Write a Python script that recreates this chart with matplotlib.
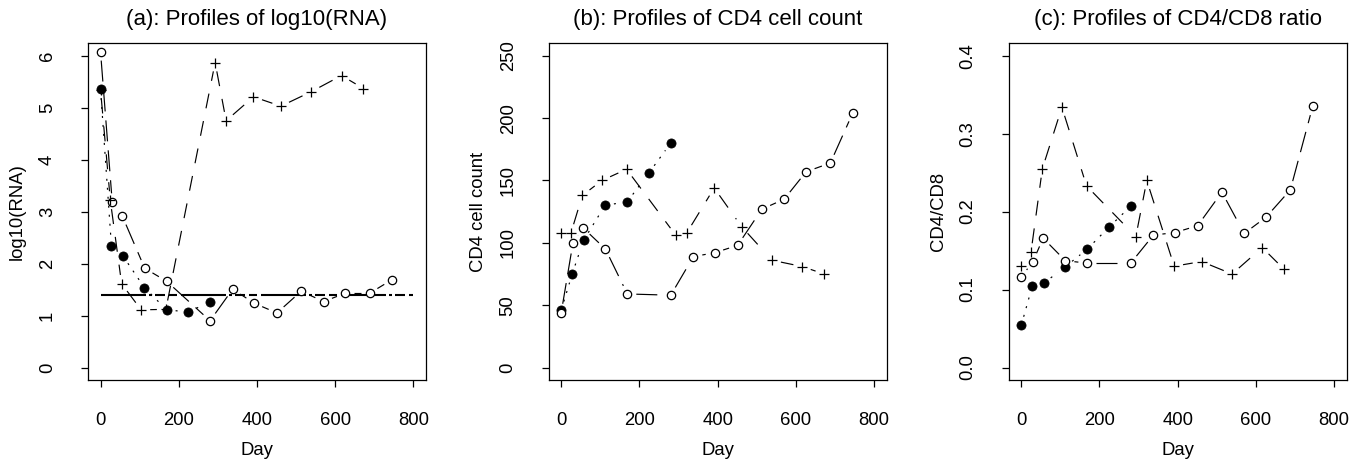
import matplotlib
matplotlib.use("Agg")
import matplotlib.pyplot as plt
import numpy as np
from matplotlib.collections import LineCollection

plt.rcParams['font.family'] = ['Liberation Sans', 'DejaVu Sans']
plt.rcParams['lines.scale_dashes'] = False

# ---------------- data ----------------
filled_days = [0, 28, 57, 112, 169, 224, 280]
filled_rna = [5.36, 2.33, 2.15, 1.54, 1.11, 1.07, 1.26]
filled_cd4 = [46, 75, 102, 130, 133, 156, 180]
filled_ratio = [0.054, 0.104, 0.108, 0.129, 0.152, 0.180, 0.207]

open_days = [0, 30, 56, 113, 169, 280, 338, 392, 451, 513, 570, 626, 688, 745]
open_rna = [6.08, 3.18, 2.91, 1.91, 1.66, 0.90, 1.51, 1.24, 1.05, 1.47, 1.27, 1.43, 1.43, 1.69]
open_cd4 = [44, 100, 112, 95, 59, 58, 89, 92, 98, 127, 135, 157, 164, 204]
open_ratio = [0.116, 0.136, 0.166, 0.137, 0.134, 0.134, 0.170, 0.173, 0.182, 0.225, 0.172, 0.193, 0.228, 0.335]

plus_days = [0, 25, 54, 104, 167, 293, 321, 391, 461, 539, 616, 672]
plus_rna = [5.35, 3.22, 1.61, 1.11, 1.12, 5.87, 4.75, 5.21, 5.03, 5.31, 5.62, 5.37]
plus_cd4 = [108, 108, 138, 150, 159, 106, 108, 144, 113, 86, 81, 75]
plus_ratio = [0.130, 0.148, 0.255, 0.334, 0.233, 0.168, 0.240, 0.130, 0.136, 0.120, 0.154, 0.126]

lod_rna = np.log10(25)          # detection-limit reference line
lod_span = [0, 800]

titles = ["(a): Profiles of log10(RNA)", "(b): Profiles of CD4 cell count",
          "(c): Profiles of CD4/CD8 ratio"]
ylabels = ["log10(RNA)", "CD4 cell count", "CD4/CD8"]
xticks = [0, 200, 400, 600, 800]
yticks_list = [[0, 1, 2, 3, 4, 5, 6], [0, 50, 100, 150, 200, 250], [0.0, 0.1, 0.2, 0.3, 0.4]]
ytick_labels = [["0", "1", "2", "3", "4", "5", "6"],
                ["0", "50", "100", "150", "200", "250"],
                ["0.0", "0.1", "0.2", "0.3", "0.4"]]
ylims = [(0, 6), (0, 250), (0, 0.4)]

W, H = 1363, 463
fig = plt.figure(figsize=(W / 100, H / 100), dpi=100)

lefts = [88, 548.7, 1008.7]
box_w = 338
box_top, box_bot = 43.3, 380
PX = 0.72  # px -> pt

FS = 13.3

def r_pretty_lim(lo, hi):
    d = (hi - lo) * 0.04
    return lo - d, hi + d

def draw_series(ax, x, y, dashes, marker, ms, mfc, mew, gap=9):
    pts = ax.transData.transform(np.column_stack([x, y]))
    inv = ax.transData.inverted()
    segs = []
    for p0, p1 in zip(pts[:-1], pts[1:]):
        d = p1 - p0
        L = np.hypot(*d)
        if L <= 2 * gap:
            continue
        u = d / L
        segs.append(inv.transform(np.array([p0 + u * gap, p1 - u * gap])))
    lc = LineCollection(segs, colors='black', linewidths=0.85,
                        linestyles=[(0, tuple(v * PX for v in dashes))])
    ax.add_collection(lc)
    ax.plot(x, y, linestyle='none', marker=marker, markersize=ms,
            markerfacecolor=mfc, markeredgecolor='black', markeredgewidth=mew,
            clip_on=False, zorder=3)

series_sets = [
    (filled_rna, open_rna, plus_rna),
    (filled_cd4, open_cd4, plus_cd4),
    (filled_ratio, open_ratio, plus_ratio),
]

for i in range(3):
    ax = fig.add_axes([lefts[i] / W, 1 - box_bot / H, box_w / W, (box_bot - box_top) / H])
    ax.set_xlim(*r_pretty_lim(0, 800))
    ax.set_ylim(*r_pretty_lim(*ylims[i]))
    for s in ax.spines.values():
        s.set_linewidth(0.9)
    ax.set_xticks(xticks)
    ax.set_xticklabels([str(t) for t in xticks])
    ax.set_yticks(yticks_list[i])
    ax.set_yticklabels(ytick_labels[i], rotation=90, va='center')
    ax.tick_params(axis='both', direction='out', length=7 * PX, width=0.9,
                   labelsize=FS, pad=25 * PX)

    f, o, p = series_sets[i]
    draw_series(ax, filled_days, f, (2, 7), 'o', 6.6, 'black', 0.5)
    draw_series(ax, open_days, o, (21, 9), 'o', 6.0, 'white', 0.9)
    draw_series(ax, plus_days, p, (15, 13), '+', 7.2, 'black', 0.9)

    if i == 0:
        ax.hlines(lod_rna, lod_span[0], lod_span[1], colors='black', linewidth=1.5,
                  linestyles=[(0, tuple(v * PX for v in (45, 3, 3, 3, 10, 4, 8, 4)))])

    ax.set_title(titles[i], fontsize=16, y=(box_bot - 19) / (box_bot - box_top),
                 va='center', pad=0)
    ax.set_xlabel("Day", fontsize=FS, va='center')
    ax.xaxis.set_label_coords(0.5, (box_bot - 450) / (box_bot - box_top))
    ax.set_ylabel(ylabels[i], fontsize=FS, va='center')
    ax.yaxis.set_label_coords(-70.5 / box_w, 0.5)

fig.savefig("out.png", dpi=100)
